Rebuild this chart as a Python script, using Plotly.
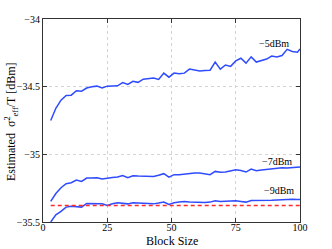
import plotly.graph_objects as go

x_vals = [3, 5, 7, 9, 11, 13, 15, 17, 19, 21, 23, 25, 27, 29, 31, 33, 35, 37, 39, 41,
          43, 45, 47, 49, 51, 53, 55, 57, 59, 61, 63, 65, 67, 69, 71, 73, 75, 77, 79, 81,
          83, 85, 87, 89, 91, 93, 95, 97, 99, 100]

p_m5 = [-34.75, -34.66, -34.60, -34.565, -34.563, -34.53, -34.533, -34.51, -34.50, -34.496,
        -34.509, -34.496, -34.495, -34.494, -34.47, -34.484, -34.46, -34.468, -34.445, -34.44,
        -34.436, -34.447, -34.40, -34.43, -34.40, -34.405, -34.40, -34.37, -34.38, -34.385,
        -34.38, -34.378, -34.318, -34.37, -34.34, -34.35, -34.31, -34.29, -34.326, -34.28,
        -34.318, -34.305, -34.296, -34.274, -34.28, -34.27, -34.224, -34.24, -34.245, -34.222]

p_m7 = [-35.348, -35.29, -35.247, -35.217, -35.21, -35.19, -35.20, -35.175, -35.174, -35.173,
        -35.183, -35.18, -35.172, -35.168, -35.156, -35.173, -35.158, -35.16, -35.16, -35.162,
        -35.163, -35.155, -35.143, -35.168, -35.15, -35.15, -35.145, -35.138, -35.138, -35.138,
        -35.142, -35.15, -35.126, -35.133, -35.131, -35.125, -35.114, -35.119, -35.131, -35.109,
        -35.121, -35.115, -35.111, -35.108, -35.106, -35.1, -35.101, -35.098, -35.096, -35.094]

p_m9 = [-35.50, -35.447, -35.422, -35.39, -35.383, -35.385, -35.39, -35.363, -35.363, -35.363,
        -35.366, -35.378, -35.365, -35.358, -35.362, -35.366, -35.358, -35.36, -35.363, -35.364,
        -35.366, -35.36, -35.353, -35.37, -35.358, -35.352, -35.348, -35.353, -35.355, -35.358,
        -35.356, -35.353, -35.343, -35.348, -35.346, -35.345, -35.343, -35.348, -35.353, -35.341,
        -35.342, -35.341, -35.341, -35.34, -35.338, -35.336, -35.331, -35.332, -35.333, -35.333]

ref_x = [3, 100]
ref_y = [-35.378, -35.378]

labels = ["\u22125dBm", "\u22127dBm", "\u22129dBm"]
label_pos = [(90, -34.18), (91, -35.05), (92, -35.27)]

x_ticks = [0, 25, 50, 75, 100]
y_ticks = [-34, -34.5, -35, -35.5]
y_tick_text = ["\u221234", "\u221234.5", "\u221235", "\u221235.5"]

x_title = "Block Size"
y_title = "Estimated  \u03c3<sup>2</sup><sub>eff</sub>/T [dBm]"

blue = "#2f4bff"
serif = "Liberation Serif"
fig = go.Figure()
for ys in (p_m5, p_m7, p_m9):
    fig.add_trace(go.Scatter(x=x_vals, y=ys, mode="lines",
                             line=dict(color=blue, width=1.5), showlegend=False))
fig.add_trace(go.Scatter(x=ref_x, y=ref_y, mode="lines",
                         line=dict(color="#ff2a2a", width=1.5, dash="4px,3px"),
                         showlegend=False))

for txt, (lx, ly) in zip(labels, label_pos):
    fig.add_annotation(x=lx, y=ly, text=txt, showarrow=False,
                       font=dict(family=serif, size=10, color="black"))

fig.add_annotation(x=0.502, y=-0.093, xref="paper", yref="paper", text=x_title,
                   showarrow=False, xanchor="center", yanchor="middle",
                   font=dict(family=serif, size=12, color="black"))
fig.add_annotation(x=-0.12, y=0.493, xref="paper", yref="paper", text=y_title,
                   showarrow=False, xanchor="center", yanchor="middle", textangle=-90,
                   font=dict(family=serif, size=12, color="black"))

axis_common = dict(showline=True, linecolor="#333333", linewidth=1, mirror="ticks",
                   ticks="inside", ticklen=4, tickcolor="#333333",
                   showgrid=True, gridcolor="#d4d4d4", griddash="dot", gridwidth=1,
                   zeroline=False, automargin=False,
                   tickfont=dict(family=serif, size=10, color="black"))

fig.update_xaxes(range=[0, 100], tickvals=x_ticks, ticklabelstandoff=-4, **axis_common)
fig.update_yaxes(range=[-35.5, -34], tickvals=y_ticks, ticktext=y_tick_text, **axis_common)

fig.update_layout(width=332, height=249,
                  margin=dict(l=43, r=32, t=19, b=27),
                  plot_bgcolor="white", paper_bgcolor="white")

fig.write_html("out.html", config={"displayModeBar": False},
               post_script="document.body.style.margin='0';document.body.style.overflow='hidden';")
